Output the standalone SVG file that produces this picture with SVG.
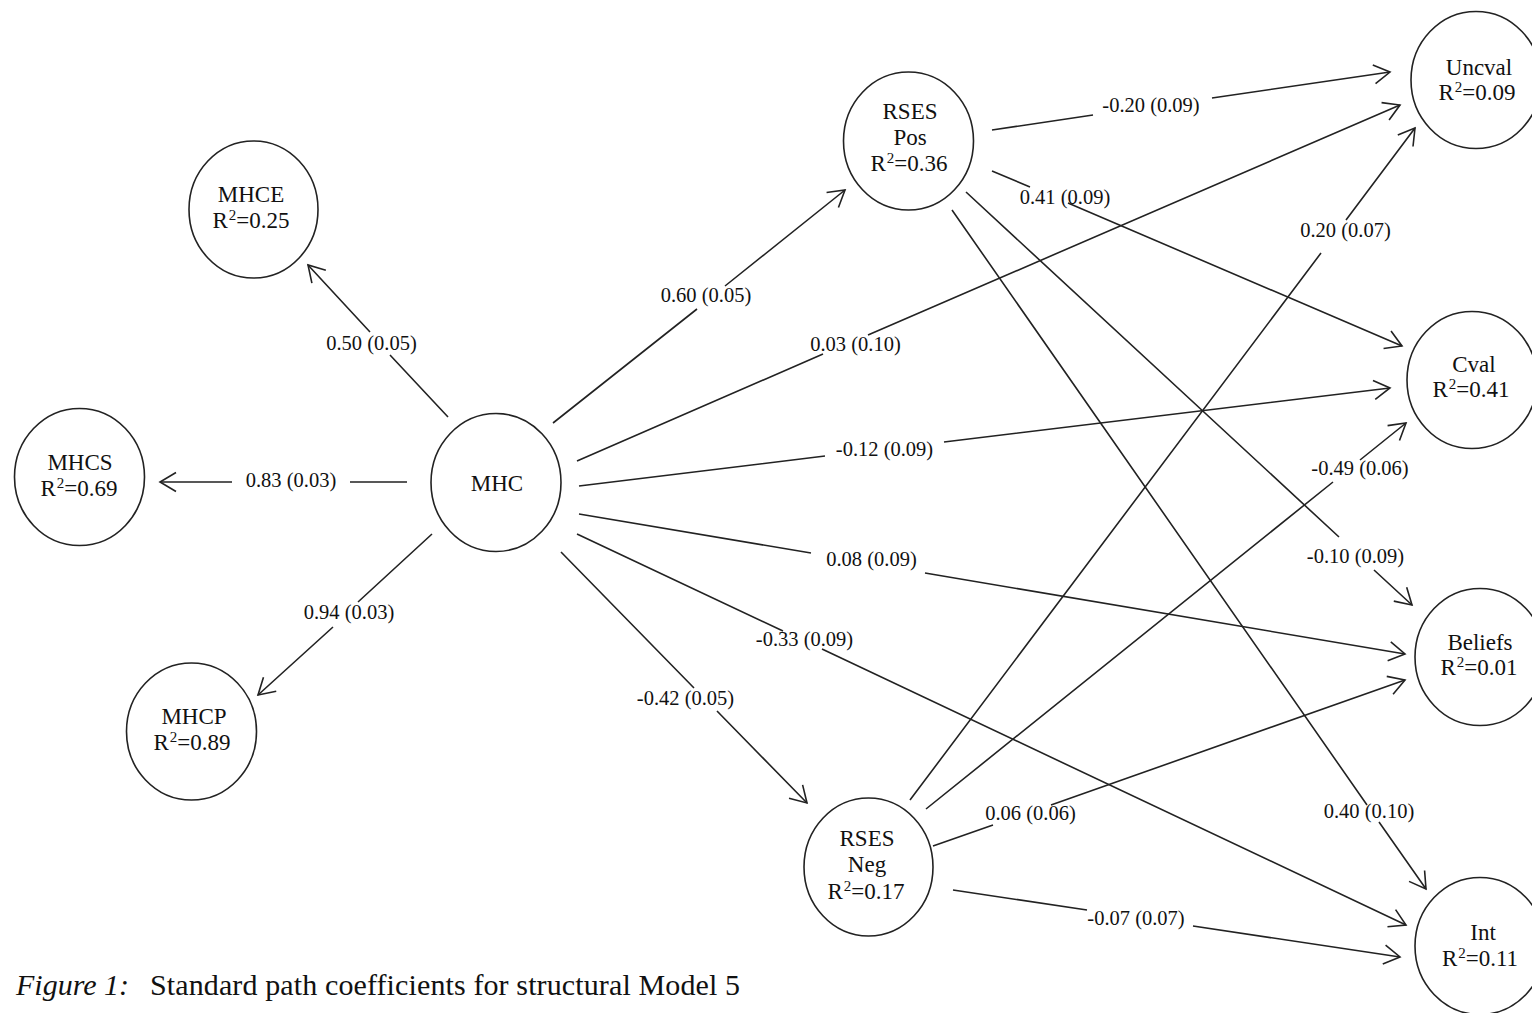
<svg xmlns="http://www.w3.org/2000/svg" width="1532" height="1013" viewBox="0 0 1532 1013">
<style>
  .node ellipse { fill: #ffffff; stroke: #222222; stroke-width: 1.6; }
  .node text { font-family: "Liberation Serif", "Times New Roman", serif; font-size: 23px; fill: #111111; text-anchor: middle; }
  .node .sup { font-size: 15px; }
  #connectors path { fill: none; stroke: #222222; stroke-width: 1.6; }
  .lbl { font-family: "Liberation Serif", "Times New Roman", serif; font-size: 20.5px; fill: #111111; text-anchor: middle; }
  .caption { font-family: "Liberation Serif", "Times New Roman", serif; font-size: 30px; fill: #111111; }
</style>
<defs>
  <marker id="arrow" markerUnits="userSpaceOnUse" viewBox="-20 -12 22 24" refX="0" refY="0" markerWidth="22" markerHeight="24" orient="auto" overflow="visible">
    <path d="M-16,-9.5 L0,0 L-16,9.5" fill="none" stroke="#222222" stroke-width="1.6" stroke-linejoin="miter"/>
  </marker>
</defs>
<rect x="0" y="0" width="1532" height="1013" fill="#ffffff"/>

<g id="connectors">
  <path id="e-mhc-mhce" d="M448,417 L390,355 M370,332 L308,265" marker-end="url(#arrow)"/>
  <path id="e-mhc-mhcs" d="M407,482 L350,482 M232,482 L160,482" marker-end="url(#arrow)"/>
  <path id="e-mhc-mhcp" d="M432,534 L358,602 M333,627 L258,695" marker-end="url(#arrow)"/>
  <path id="e-mhc-rsespos" d="M553,423 L697,309 M725,286 L845,190" marker-end="url(#arrow)"/>
  <path id="e-mhc-uncval" d="M577,461 L823,354 M868,335 L1400,105" marker-end="url(#arrow)"/>
  <path id="e-mhc-cval" d="M579,486 L825,456 M944,442 L1390,388" marker-end="url(#arrow)"/>
  <path id="e-mhc-beliefs" d="M579,514 L811,553 M925,573 L1405,654" marker-end="url(#arrow)"/>
  <path id="e-mhc-int" d="M577,534 L783,631 M822,649 L1406,925" marker-end="url(#arrow)"/>
  <path id="e-mhc-rsesneg" d="M561,552 L694,688 M717,711 L807,803" marker-end="url(#arrow)"/>
  <path id="e-pos-uncval" d="M992,130 L1093,115 M1212,98 L1390,72" marker-end="url(#arrow)"/>
  <path id="e-pos-cval" d="M992,171 L1030,187 M1068,203 L1402,346" marker-end="url(#arrow)"/>
  <path id="e-pos-beliefs" d="M966,192 L1339,537 M1374,570 L1412,605" marker-end="url(#arrow)"/>
  <path id="e-pos-int" d="M952,210 L1367,805 M1379,822 L1426,889" marker-end="url(#arrow)"/>
  <path id="e-neg-uncval" d="M910,800 L1321,253 M1346,220 L1415,128" marker-end="url(#arrow)"/>
  <path id="e-neg-cval" d="M926,809 L1333,482 M1360,460 L1406,423" marker-end="url(#arrow)"/>
  <path id="e-neg-beliefs" d="M933,846 L993,825 M1051,805 L1405,680" marker-end="url(#arrow)"/>
  <path id="e-neg-int" d="M953,890 L1087,910 M1193,926 L1400,957" marker-end="url(#arrow)"/>
</g>

<g id="edge-labels">
  <text class="lbl" x="371.5" y="349.5">0.50 (0.05)</text>
  <text class="lbl" x="291" y="486.5">0.83 (0.03)</text>
  <text class="lbl" x="349" y="618.5">0.94 (0.03)</text>
  <text class="lbl" x="706" y="301.5">0.60 (0.05)</text>
  <text class="lbl" x="855.5" y="350.5">0.03 (0.10)</text>
  <text class="lbl" x="884.5" y="455.5">-0.12 (0.09)</text>
  <text class="lbl" x="871.5" y="565.5">0.08 (0.09)</text>
  <text class="lbl" x="804.5" y="645.5">-0.33 (0.09)</text>
  <text class="lbl" x="685.5" y="704.5">-0.42 (0.05)</text>
  <text class="lbl" x="1151" y="111.5">-0.20 (0.09)</text>
  <text class="lbl" x="1065" y="203.5">0.41 (0.09)</text>
  <text class="lbl" x="1355.5" y="562.5">-0.10 (0.09)</text>
  <text class="lbl" x="1369" y="817.5">0.40 (0.10)</text>
  <text class="lbl" x="1345.5" y="236.5">0.20 (0.07)</text>
  <text class="lbl" x="1360" y="474.5">-0.49 (0.06)</text>
  <text class="lbl" x="1030.5" y="819.5">0.06 (0.06)</text>
  <text class="lbl" x="1136" y="924.5">-0.07 (0.07)</text>
</g>

<g id="node-mhce" class="node">
  <ellipse cx="253.5" cy="209.5" rx="64.5" ry="68.5"/>
  <text x="251" y="202">MHCE</text>
  <text x="251" y="228">R<tspan class="sup" dx="1" dy="-8">2</tspan><tspan dy="8">=0.25</tspan></text>
</g>
<g id="node-mhcs" class="node">
  <ellipse cx="79.5" cy="477" rx="65" ry="68.5"/>
  <text x="80" y="470">MHCS</text>
  <text x="79" y="496">R<tspan class="sup" dx="1" dy="-8">2</tspan><tspan dy="8">=0.69</tspan></text>
</g>
<g id="node-mhcp" class="node">
  <ellipse cx="191.5" cy="731.5" rx="65" ry="68.5"/>
  <text x="194" y="724">MHCP</text>
  <text x="192" y="750">R<tspan class="sup" dx="1" dy="-8">2</tspan><tspan dy="8">=0.89</tspan></text>
</g>
<g id="node-mhc" class="node">
  <ellipse cx="496" cy="482.5" rx="65" ry="69"/>
  <text x="497" y="491">MHC</text>
</g>
<g id="node-rses-pos" class="node">
  <ellipse cx="908.5" cy="141" rx="65" ry="69"/>
  <text x="910" y="119">RSES</text>
  <text x="910" y="145">Pos</text>
  <text x="909" y="171">R<tspan class="sup" dx="1" dy="-8">2</tspan><tspan dy="8">=0.36</tspan></text>
</g>
<g id="node-rses-neg" class="node">
  <ellipse cx="868.5" cy="867" rx="64.5" ry="69"/>
  <text x="867" y="846">RSES</text>
  <text x="867" y="872">Neg</text>
  <text x="866" y="899">R<tspan class="sup" dx="1" dy="-8">2</tspan><tspan dy="8">=0.17</tspan></text>
</g>
<g id="node-uncval" class="node">
  <ellipse cx="1476" cy="80" rx="65" ry="68.5"/>
  <text x="1479" y="75">Uncval</text>
  <text x="1477" y="100">R<tspan class="sup" dx="1" dy="-8">2</tspan><tspan dy="8">=0.09</tspan></text>
</g>
<g id="node-cval" class="node">
  <ellipse cx="1472" cy="380" rx="65" ry="68.5"/>
  <text x="1474" y="372">Cval</text>
  <text x="1471" y="397">R<tspan class="sup" dx="1" dy="-8">2</tspan><tspan dy="8">=0.41</tspan></text>
</g>
<g id="node-beliefs" class="node">
  <ellipse cx="1480" cy="657" rx="65" ry="68.5"/>
  <text x="1480" y="650">Beliefs</text>
  <text x="1479" y="675">R<tspan class="sup" dx="1" dy="-8">2</tspan><tspan dy="8">=0.01</tspan></text>
</g>
<g id="node-int" class="node">
  <ellipse cx="1480" cy="946" rx="65" ry="68.5"/>
  <text x="1483" y="940">Int</text>
  <text x="1480" y="966">R<tspan class="sup" dx="1" dy="-8">2</tspan><tspan dy="8">=0.11</tspan></text>
</g>

<g id="caption">
  <text class="caption" x="16" y="995" font-style="italic">Figure 1:</text>
  <text class="caption" x="150" y="995" textLength="590" lengthAdjust="spacing">Standard path coefficients for structural Model 5</text>
</g>
</svg>
